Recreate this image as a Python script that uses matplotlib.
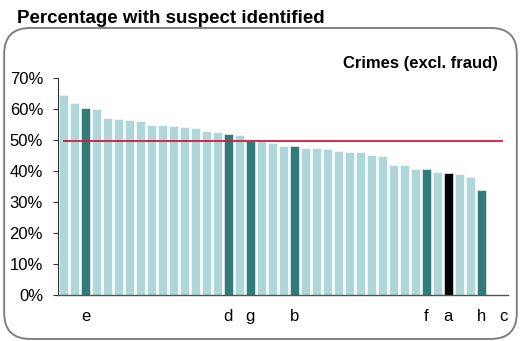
import numpy as np
import matplotlib
matplotlib.use("Agg")
import matplotlib.pyplot as plt
from matplotlib.patches import FancyBboxPatch

plt.rcParams['font.family'] = ['Liberation Sans', 'DejaVu Sans']

# share of crimes with a suspect identified, by area (%), sorted high to low
values = [64.4, 61.9, 60.5, 59.9, 57.0, 56.7, 56.5, 56.0, 55.0, 54.7,
          54.5, 54.3, 53.8, 52.8, 52.7, 52.1, 51.5, 49.8, 49.8, 48.9,
          48.1, 48.0, 47.3, 47.3, 47.2, 46.6, 46.2, 46.2, 45.3, 44.9,
          42.1, 42.1, 40.5, 40.5, 39.7, 39.5, 39.1, 38.0, 34.0,
          np.nan, np.nan]
labels = ['', '', 'e', '', '', '', '', '', '', '',
          '', '', '', '', '', 'd', '', 'g', '', '',
          '', 'b', '', '', '', '', '', '', '', '',
          '', '', '', 'f', '', 'a', '', '', 'h',
          '', 'c']
focus_label = 'a'
average = 49.6
yticks = [0, 10, 20, 30, 40, 50, 60, 70]

LIGHT = '#afd6d8'
DARK = '#317b7a'
RED = '#d7193f'

colors = []
for lab in labels:
    if lab == focus_label:
        colors.append('black')
    elif lab:
        colors.append(DARK)
    else:
        colors.append(LIGHT)

fig = plt.figure(figsize=(5.21, 3.41), dpi=100)
ax = fig.add_axes([0.111, 0.135, 0.864, 0.636])

x = np.arange(len(values))
ax.bar(x, values, width=0.82, color=colors, edgecolor='white', linewidth=0.4)
ax.hlines(average, -0.05, len(values) - 1, color=RED, linewidth=1.3, zorder=3)

ax.set_xlim(-0.53, len(values) - 0.55)
ax.set_ylim(0, 70)
ax.set_yticks(yticks)
ax.set_yticklabels([f'{t}%' for t in yticks], fontsize=12)
ax.set_xticks(x)
ax.set_xticklabels(labels, fontsize=12)
ax.tick_params(axis='x', length=0, pad=10)
ax.tick_params(axis='y', length=3.6, width=0.8, color='#333333', pad=7)

for side in ['top', 'right']:
    ax.spines[side].set_visible(False)
ax.spines['left'].set_color('#333333')
ax.spines['left'].set_linewidth(0.8)
ax.spines['bottom'].set_color('#555555')
ax.spines['bottom'].set_linewidth(1.0)

fig.text(0.956, 0.80, 'Crimes (excl. fraud)', ha='right', va='baseline',
         fontsize=12, fontweight='bold')

fig.text(0.032, 0.933, 'Percentage with suspect identified',
         ha='left', va='baseline', fontsize=13.5, fontweight='bold')

frame = FancyBboxPatch((0.008, 0.006), 0.984, 0.912,
                       boxstyle='round,pad=0,rounding_size=0.05',
                       transform=fig.transFigure, fill=False,
                       edgecolor='#808080', linewidth=1.4,
                       mutation_aspect=521 / 341)
fig.patches.append(frame)

fig.savefig('out.png', dpi=100)
